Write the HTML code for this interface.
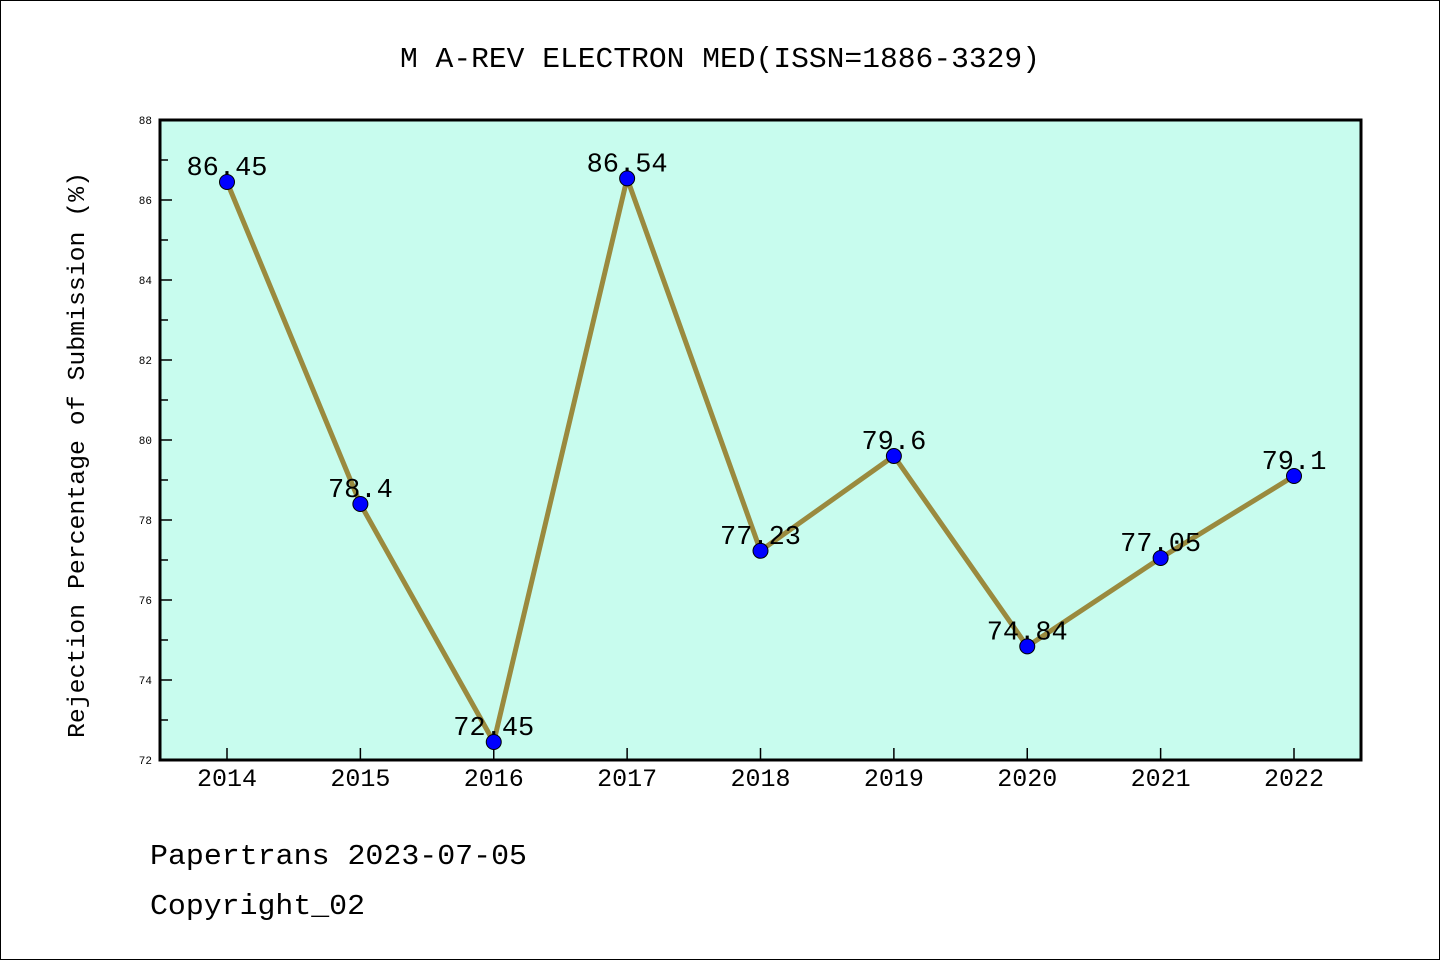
<!DOCTYPE html>
<html><head><meta charset="utf-8"><style>
body{margin:0;background:#fff}
svg{display:block;font-family:"WenQuanYi Zen Hei Mono","Liberation Mono",monospace}
</style></head><body>
<svg width="1440" height="960">
<rect x="0.5" y="0.5" width="1439" height="959" fill="#fff" stroke="#000"/>
<text x="720" y="67" font-size="29" text-anchor="middle" textLength="640" lengthAdjust="spacingAndGlyphs">M A-REV ELECTRON MED(ISSN=1886-3329)</text>
<rect x="160" y="120" width="1201" height="640" fill="#c8fcee"/>
<g id="ticks"></g>
<g id="marks"></g>
<rect x="160" y="120" width="1201" height="640" fill="none" stroke="#000" stroke-width="3"/>
<text transform="translate(84,455) rotate(-90)" font-size="24" text-anchor="middle" textLength="566" lengthAdjust="spacingAndGlyphs">Rejection Percentage of Submission (%)</text>
<text x="150" y="864" font-size="29" textLength="377" lengthAdjust="spacingAndGlyphs">Papertrans 2023-07-05</text>
<text x="150" y="914" font-size="29" textLength="215" lengthAdjust="spacingAndGlyphs">Copyright_02</text>
</svg>
<script>
const years=["2014","2015","2016","2017","2018","2019","2020","2021","2022"];
const values=[86.45,78.4,72.45,86.54,77.23,79.6,74.84,77.05,79.1];
const labels=["86.45","78.4","72.45","86.54","77.23","79.6","74.84","77.05","79.1"];
const yTicks=[72,74,76,78,80,82,84,86,88];
const NS="http://www.w3.org/2000/svg";
const x=i=>227+i*(1294-227)/8;
const y=v=>760-(v-72)*40;
function mk(t,a,p){const e=document.createElementNS(NS,t);for(const k in a)e.setAttribute(k,a[k]);p.appendChild(e);return e;}
const tg=document.getElementById('ticks'),mg=document.getElementById('marks');
yTicks.forEach(v=>{
 const l=mk('line',{x1:160,x2:172,y1:y(v),y2:y(v),stroke:'#000','stroke-width':1.5},tg);
 
 
 const t=mk('text',{x:152,y:y(v)+4,'font-size':11,'text-anchor':'end'},tg);t.textContent=v;
 
 
 if(v<88){const m=mk('line',{x1:160,x2:168,y1:y(v+1),y2:y(v+1),stroke:'#000','stroke-width':1.5},tg);
 
 }
});
years.forEach((yr,i)=>{
 const l=mk('line',{x1:x(i),x2:x(i),y1:760,y2:748,stroke:'#000','stroke-width':1.5},tg);
 
 
 const t=mk('text',{x:x(i),y:786,'font-size':25,'text-anchor':'middle'},tg);t.textContent=yr;
 
 
});
const pl=mk('polyline',{points:values.map((v,i)=>x(i)+','+y(v)).join(' '),fill:'none',stroke:'#9a8a3e','stroke-width':5},mg);


values.forEach((v,i)=>{
 const c=mk('circle',{cx:x(i),cy:y(v),r:7.5,fill:'#0000ff',stroke:'#000','stroke-width':1},mg);
 
 
 const t=mk('text',{x:x(i),y:y(v)-7,'font-size':27,'text-anchor':'middle'},mg);t.textContent=labels[i];
 
 
});
</script>
</body></html>
